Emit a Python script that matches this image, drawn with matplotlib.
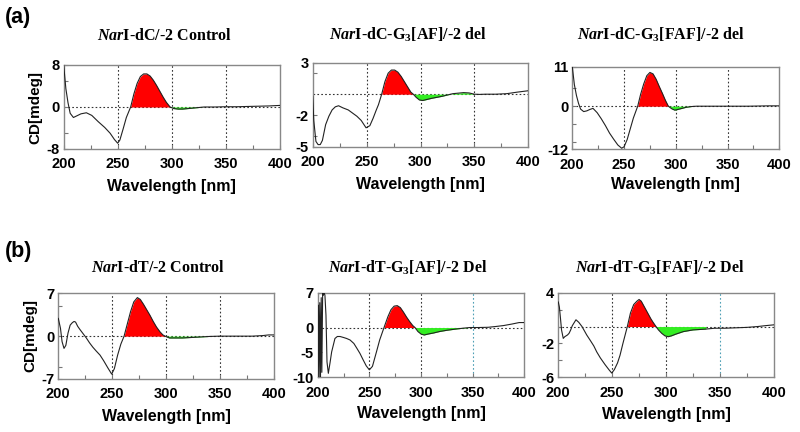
import numpy as np
import matplotlib
matplotlib.use("Agg")
import matplotlib.pyplot as plt
from matplotlib.ticker import FixedLocator

plt.rcParams['font.family'] = ['Liberation Sans', 'DejaVu Sans']
plt.rcParams['mathtext.fontset'] = 'custom'
plt.rcParams['mathtext.rm'] = 'Liberation Serif:bold'
plt.rcParams['mathtext.it'] = 'Liberation Serif:italic:bold'
plt.rcParams['mathtext.bf'] = 'Liberation Serif:bold'

# ---------------- data ----------------
titles = [r"$\mathit{Nar}$I-dC/-2 Control",
          r"$\mathit{Nar}$I-dC-G$_3$[AF]/-2 del",
          r"$\mathit{Nar}$I-dC-G$_3$[FAF]/-2 del",
          r"$\mathit{Nar}$I-dT/-2 Control",
          r"$\mathit{Nar}$I-dT-G$_3$[AF]/-2 Del",
          r"$\mathit{Nar}$I-dT-G$_3$[FAF]/-2 Del"]

xticks = [200, 250, 300, 350, 400]

a1_wl = [200, 202, 204, 206, 209, 212, 216, 221, 226, 232, 238, 243, 247, 250, 252,
         255, 258, 262, 265, 268, 271, 274, 277, 280, 283, 286, 289, 292, 295, 298.5,
         302, 306, 310, 315, 320, 325, 330, 340, 350, 360, 370, 380, 390, 400]
a1_cd = [8.0, 3.5, 0.8, -1.2, -2.0, -1.7, -1.3, -1.1, -1.6, -2.8, -3.9, -5.0, -6.2, -6.9, -6.3,
         -4.2, -2.0, 0.0, 2.5, 4.5, 5.8, 6.3, 6.3, 5.9, 5.1, 4.1, 3.0, 1.9, 0.9, 0.0,
         -0.3, -0.4, -0.4, -0.3, -0.2, -0.1, 0.0, 0.0, 0.05, 0.05, 0.1, 0.15, 0.2, 0.3]

a2_wl = [200, 201, 203, 205, 207, 209, 212, 215, 218, 221, 224, 228, 233, 237, 241,
         245, 249.5, 253, 256, 259, 261, 264, 267, 270, 273, 276, 279, 282, 285, 288,
         291, 293.3, 296, 299, 302, 306, 310, 315, 320, 326, 330, 335, 340, 345, 350,
         355, 360, 370, 380, 390, 400]
a2_cd = [-0.2, -2.5, -4.5, -4.8, -4.8, -4.4, -2.9, -2.1, -1.5, -1.2, -1.1, -1.3, -1.5, -1.8, -2.1,
         -2.5, -3.2, -3.0, -2.3, -1.5, -1.0, 0.0, 1.2, 2.0, 2.3, 2.3, 2.1, 1.7, 1.2, 0.7,
         0.2, 0.0, -0.3, -0.55, -0.6, -0.5, -0.4, -0.3, -0.2, -0.05, 0.05, 0.1, 0.15, 0.12, 0.0,
         -0.02, 0.0, 0.0, 0.05, 0.2, 0.33]

a3_wl = [200, 202, 204, 206, 208, 211, 214, 217, 220, 224, 228, 232, 236, 240, 244,
         247.7, 250, 253, 256, 259, 263.2, 266, 269, 272, 275, 278, 281, 284, 287, 290,
         292.8, 296, 299, 302, 306, 310, 315, 320, 330, 340, 350, 360, 370, 380, 390, 400]
a3_cd = [11, 6.0, 3.0, 0.8, -0.8, -1.5, -1.3, -0.9, -0.6, -1.8, -3.5, -5.4, -7.5, -9.2, -10.8,
         -11.7, -11.3, -9.3, -6.3, -3.3, 0.0, 3.3, 6.2, 8.5, 9.4, 9.0, 7.5, 5.5, 3.6, 1.6,
         0.0, -0.7, -1.1, -0.9, -0.6, -0.3, -0.1, 0.0, 0.0, 0.0, 0.0, 0.0, 0.0, 0.05, 0.1, 0.1]

b1_wl = [200, 202, 203.5, 205.3, 207, 209, 211, 213, 214.6, 216, 218, 220, 223, 226, 229,
         232, 235, 238.7, 242, 246, 249.5, 252, 255, 258, 261, 264, 267, 270, 273.3, 276,
         279, 282, 285, 288, 291, 294.3, 297, 299, 303, 308, 315, 320, 330, 340, 350,
         360, 370, 380, 390, 395, 400]
b1_cd = [2.9, 1.3, -0.9, -2.0, -1.5, 0.5, 1.8, 2.2, 2.4, 2.3, 1.6, 1.1, 0.4, -0.3, -1.1,
         -1.8, -2.4, -3.1, -4.0, -5.2, -6.2, -5.3, -3.1, -1.3, 0.0, 2.0, 4.0, 5.6, 6.3, 6.0,
         5.2, 4.3, 3.4, 2.4, 1.5, 0.7, 0.2, 0.0, -0.3, -0.3, -0.3, -0.25, -0.15, -0.05, 0.0,
         0.0, 0.0, 0.0, 0.1, 0.2, 0.2]

b2_wl = [200, 200.7, 201.3, 202, 202.7, 203.4, 204, 204.8, 205.5, 206.2, 207, 208, 209, 210.3, 212,
         213.5, 216.7, 219, 221.6, 225, 228, 231.3, 235, 238, 240.9, 244, 247, 250, 253, 257,
         260, 264.2, 268, 271, 274, 277, 280, 283, 286, 289, 292, 294.2, 297, 300, 303,
         307, 312, 318, 325, 332, 340, 347, 355, 365, 372, 380, 388, 395, 400]
b2_cd = [-10, 4.5, -10, 5, -10, 6, -9, 7, 6.5, 7, 6.5, 2.5, -6.9, -9.2, -7.0,
         -4.9, -2.2, -1.8, -1.8, -2.0, -2.2, -2.5, -3.2, -4.2, -5.2, -6.5, -7.7, -8.5, -7.8, -4.8,
         -2.5, 0.0, 2.2, 3.6, 4.3, 4.4, 4.0, 3.1, 2.1, 1.2, 0.4, 0.0, -0.8, -1.3, -1.5,
         -1.3, -1.1, -0.8, -0.55, -0.35, -0.15, 0.0, 0.0, 0.05, 0.2, 0.4, 0.7, 1.0, 1.0]

b3_wl = [200, 201, 202, 203, 204.6, 206, 208.5, 210, 211.5, 213, 216.4, 219, 222, 226.4, 230,
         233, 235.7, 239, 243.4, 247, 249.6, 252, 255, 257.3, 260, 264.1, 267, 270, 273, 275,
         277, 280, 283, 286, 288, 290.7, 293, 296, 299, 302.1, 305, 309, 316, 325, 337,
         345, 355, 365, 375, 385, 392, 400]
b3_cd = [2.9, 2.3, 1.0, -0.4, -1.4, -1.2, -1.0, -0.8, -0.4, 0.1, 0.8, 0.5, 0.0, -1.0, -1.7,
         -2.3, -3.0, -3.7, -4.5, -5.1, -5.5, -5.1, -4.3, -3.4, -2.0, 0.0, 1.6, 2.6, 3.0, 3.2,
         3.0, 2.3, 1.6, 0.9, 0.5, 0.0, -0.4, -0.8, -1.1, -1.2, -1.1, -0.9, -0.6, -0.4, -0.3,
         -0.2, -0.2, -0.15, -0.1, 0.0, 0.1, 0.2]

wls = [a1_wl, a2_wl, a3_wl, b1_wl, b2_wl, b3_wl]
cds = [a1_cd, a2_cd, a3_cd, b1_cd, b2_cd, b3_cd]
red_ranges = [(262, 298.5), (264, 293.3), (263.2, 292.8), (261, 299), (264.2, 294.2), (264.1, 290.7)]
green_ranges = [(298.5, 330), (293.3, 350), (292.8, 315), (299, 340), (294.2, 347), (290.7, 340)]
ylims = [(-8, 8), (-5, 3), (-12, 11), (-7, 7), (-10, 7), (-6, 4)]
ytick_labels = [[8, 0, -8], [3, -2, -5], [11, 0, -12], [7, 0, -7], [7, 0, -5, -10], [4, -2, -6]]
ytick_minor = [[-5, 5], [2, -4], [5, -5, -10], [5, -5], [], [2, 0, -4]]

# ---------------- layout (pixels) ----------------
W, H = 800, 432
boxes = [(63.7, 279.7, 65, 149), (312.7, 528.3, 62.7, 146.7), (572.3, 779.3, 66.7, 149.3),
         (58.3, 274, 293.3, 379), (317.7, 524.3, 292.7, 377.3), (558.3, 773.7, 292.7, 377.3)]
title_pos = [(164, 39.5), (408, 39.5), (661, 39.5), (157.5, 272.3), (407.5, 272.3), (660, 272.3)]
xlabel_y = [186.7, 185, 185, 416.7, 413.3, 415]

fig = plt.figure(figsize=(8, 4.32), dpi=100)

def fx(x):
    return x / W

def fy(y):
    return 1 - y / H

for i in range(6):
    l, r, t, b = boxes[i]
    ax = fig.add_axes([fx(l), fy(b), (r - l) / W, (b - t) / H])
    wl = np.array(wls[i], dtype=float)
    cd = np.array(cds[i], dtype=float)
    r0, r1 = red_ranges[i]
    g0, g1 = green_ranges[i]
    ax.fill_between(wl, 0, cd, where=(wl >= r0) & (wl <= r1), color='#ff0000', lw=0, zorder=2)
    ax.fill_between(wl, 0, cd, where=(wl >= g0) & (wl <= g1), color='#33ee22', lw=0, zorder=2)
    ax.plot(wl, cd, color='#222222', lw=0.8, zorder=3)
    ax.set_xlim(200, 400)
    ax.set_ylim(*ylims[i])
    ax.axhline(0, color='#333333', lw=0.8, ls=(0, (1.5, 2)), zorder=1)
    for gx in (250, 300, 350):
        c = '#333333'
        if i >= 4 and gx == 350:
            c = '#4d9fb5'
        ax.axvline(gx, color=c, lw=0.8, ls=(0, (1.5, 2)), zorder=1)
    ax.set_xticks(xticks)
    ax.set_xticks([225, 275, 325, 375], minor=True)
    ax.set_yticks(ytick_labels[i])
    ax.set_yticklabels([str(v) for v in ytick_labels[i]])
    ax.yaxis.set_minor_locator(FixedLocator(ytick_minor[i]))
    ax.tick_params(which='both', direction='in', color='#777777', width=0.8)
    ax.tick_params(which='major', length=3)
    ax.tick_params(which='minor', length=3)
    ax.tick_params(axis='x', pad=6, labelsize=10.5)
    ax.tick_params(axis='y', pad=3, labelsize=10.5)
    for lab in ax.get_xticklabels() + ax.get_yticklabels():
        lab.set_fontweight('bold')
    for s in ax.spines.values():
        s.set_color('#888888')
        s.set_linewidth(1.0)
    tx, ty = title_pos[i]
    fig.text(fx(tx), fy(ty), titles[i], ha='center', va='baseline',
             family='Liberation Serif', weight='bold', fontsize=11.5)
    fig.text(fx((l + r) / 2), fy(xlabel_y[i]), 'Wavelength [nm]', ha='center', va='center',
             weight='bold', fontsize=11.5)

fig.text(fx(35), fy(107), 'CD[mdeg]', rotation=90, ha='center', va='center', weight='bold', fontsize=11)
fig.text(fx(30), fy(335), 'CD[mdeg]', rotation=90, ha='center', va='center', weight='bold', fontsize=11)
fig.text(fx(5), fy(17), '(a)', ha='left', va='center', weight='bold', fontsize=15.5)
fig.text(fx(5), fy(251.7), '(b)', ha='left', va='center', weight='bold', fontsize=15.5)

fig.savefig('out.png', dpi=100, facecolor='white')
